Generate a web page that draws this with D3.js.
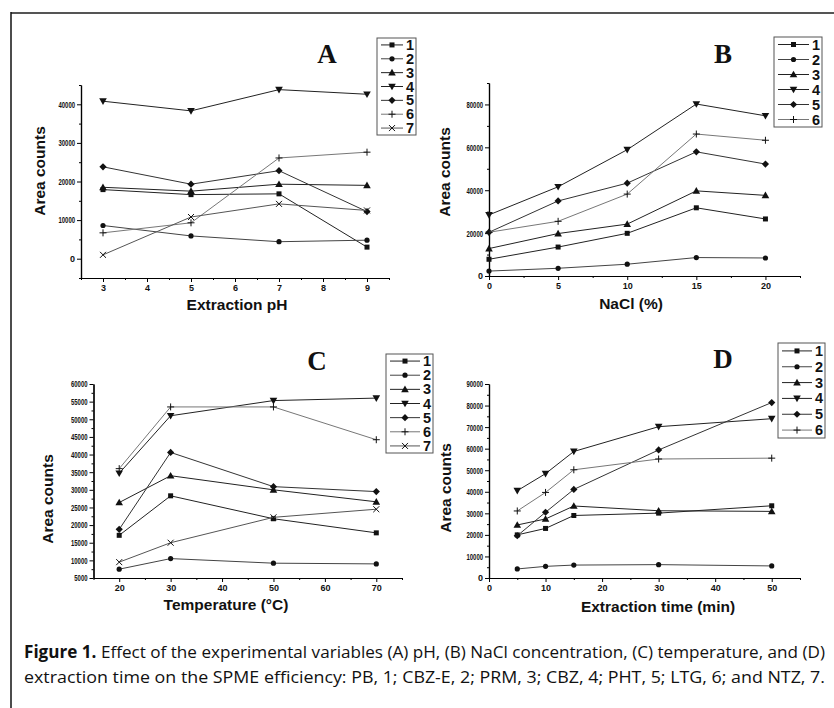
<!DOCTYPE html>
<html>
<head>
<meta charset="utf-8">
<script src="https://cdn.jsdelivr.net/npm/d3@7"></script>
<style>
  body { margin: 0; background: #fff; }
  svg { display: block; }
</style>
</head>
<body>
<script>
// ---- data ----
// A: extraction pH
var phX = [3, 5, 7, 9];
var phVals = [
  [17900, 16600, 16800, 3000],
  [8600, 5900, 4400, 4800],
  [18500, 17500, 19300, 19000],
  [40800, 38300, 43800, 42600],
  [23800, 19300, 22800, 12200],
  [6700, 9300, 26100, 27600],
  [1000, 10800, 14200, 12500]
];
var phXTicks = [3, 4, 5, 6, 7, 8, 9];
var phYTicks = [0, 10000, 20000, 30000, 40000];

// B: NaCl (%)
var naclX = [0, 5, 10, 15, 20];
var naclVals = [
  [7800, 13500, 19900, 31800, 26600],
  [2300, 3600, 5500, 8600, 8400],
  [12800, 19800, 24200, 39700, 37600],
  [28500, 41600, 58900, 80200, 74700],
  [20400, 35000, 43300, 57900, 52200],
  [20400, 25500, 38200, 66200, 63300]
];
var naclXTicks = [0, 5, 10, 15, 20];
var naclYTicks = [0, 20000, 40000, 60000, 80000];

// C: temperature
var tempX = [20, 30, 50, 70];
var tempVals = [
  [17100, 28300, 21800, 17800],
  [7500, 10500, 9200, 9000],
  [26400, 34000, 30000, 26600],
  [34700, 51000, 55300, 56000],
  [18800, 40600, 30900, 29500],
  [36000, 53500, 53500, 44200],
  [9500, 15000, 22200, 24500]
];
var tempXTicks = [20, 30, 40, 50, 60, 70];
var tempYTicks = [5000, 10000, 15000, 20000, 25000, 30000, 35000, 40000, 45000, 50000, 55000, 60000];

// D: extraction time
var timeX = [5, 10, 15, 30, 50];
var timeVals = [
  [20000, 23000, 29000, 30100, 33500],
  [4200, 5400, 6000, 6200, 5600],
  [24600, 27400, 33400, 31200, 30900],
  [40500, 48400, 58700, 70200, 73900],
  [19600, 30500, 41100, 59400, 81400],
  [31100, 39700, 50200, 55200, 55600]
];
var timeXTicks = [0, 10, 20, 30, 40, 50];
var timeYTicks = [0, 10000, 20000, 30000, 40000, 50000, 60000, 70000, 80000, 90000];

var seriesNames = ["1", "2", "3", "4", "5", "6", "7"];
var markerTypes = ["square", "circle", "tri", "down", "diamond", "plus", "cross"];
var lineColors = ["#222", "#444", "#222", "#222", "#333", "#777", "#555"];

var sans = "'Liberation Sans', Arial, sans-serif";

var svg = d3.select("body").append("svg")
    .attr("width", 834)
    .attr("height", 708);

svg.append("rect").attr("width", 834).attr("height", 708).attr("fill", "#fff");

// page frame of the scan
svg.append("line").attr("x1", 11).attr("x2", 834).attr("y1", 13).attr("y2", 13)
    .attr("stroke", "#555").attr("stroke-width", 2);
svg.append("line").attr("x1", 11).attr("x2", 11).attr("y1", 12).attr("y2", 708)
    .attr("stroke", "#111").attr("stroke-width", 1.5);

function drawMarker(g, type, cx, cy, color) {
  var s;
  switch (type) {
    case "square":
      g.append("rect").attr("x", cx - 2.5).attr("y", cy - 2.5).attr("width", 5).attr("height", 5)
        .attr("fill", color);
      break;
    case "circle":
      g.append("circle").attr("cx", cx).attr("cy", cy).attr("r", 2.6).attr("fill", color);
      break;
    case "tri":
      s = 3.8;
      g.append("path").attr("d", "M" + cx + "," + (cy - s) + "L" + (cx + s) + "," + (cy + s * 0.75) +
        "L" + (cx - s) + "," + (cy + s * 0.75) + "Z").attr("fill", color);
      break;
    case "down":
      s = 3.8;
      g.append("path").attr("d", "M" + cx + "," + (cy + s) + "L" + (cx + s) + "," + (cy - s * 0.75) +
        "L" + (cx - s) + "," + (cy - s * 0.75) + "Z").attr("fill", color);
      break;
    case "diamond":
      s = 3.6;
      g.append("path").attr("d", "M" + cx + "," + (cy - s) + "L" + (cx + s) + "," + cy +
        "L" + cx + "," + (cy + s) + "L" + (cx - s) + "," + cy + "Z").attr("fill", color);
      break;
    case "plus":
      s = 3.5;
      g.append("path").attr("d", "M" + (cx - s) + "," + cy + "H" + (cx + s) + "M" + cx + "," + (cy - s) + "V" + (cy + s))
        .attr("stroke", color).attr("stroke-width", 1).attr("fill", "none");
      break;
    case "cross":
      s = 3;
      g.append("path").attr("d", "M" + (cx - s) + "," + (cy - s) + "L" + (cx + s) + "," + (cy + s) +
        "M" + (cx - s) + "," + (cy + s) + "L" + (cx + s) + "," + (cy - s))
        .attr("stroke", color).attr("stroke-width", 1).attr("fill", "none");
      break;
  }
}

function styleTicks(sel, squeeze) {
  sel.selectAll("path.domain").attr("stroke", "#000").attr("stroke-width", 1.2);
  sel.selectAll(".tick line").attr("stroke", "#000").attr("stroke-width", 1);
  sel.selectAll("text")
    .attr("font-family", sans)
    .attr("font-size", 9)
    .attr("font-weight", "bold")
    .attr("fill", "#111")
    .each(function() {
      var t = d3.select(this).text();
      if (squeeze && t.length >= 4) {
        d3.select(this).attr("textLength", t.length * 3.3).attr("lengthAdjust", "spacingAndGlyphs");
      }
    });
}

function drawPanel(p) {
  var x = d3.scaleLinear().domain(p.xDom).range(p.xRange);
  var y = d3.scaleLinear().domain(p.yDom).range(p.yRange);
  var g = svg.append("g");

  var xMinor = d3.range(p.xDom[0], p.xDom[1] + 1e-9, p.xMinorStep)
      .filter(function(v) { return p.xTicks.indexOf(v) < 0; });
  var yMinor = d3.range(p.yDom[0], p.yDom[1] + 1e-9, p.yMinorStep)
      .filter(function(v) { return p.yTicks.indexOf(v) < 0; });

  g.append("g").attr("transform", "translate(0," + p.yRange[0] + ")")
    .call(d3.axisBottom(x).tickValues(xMinor).tickSize(2).tickSizeOuter(0).tickFormat(""))
    .call(styleTicks, false);
  g.append("g").attr("transform", "translate(0," + p.yRange[0] + ")")
    .call(d3.axisBottom(x).tickValues(p.xTicks).tickSize(4).tickSizeOuter(0).tickPadding(3)
      .tickFormat(d3.format("d")))
    .call(styleTicks, false);

  g.append("g").attr("transform", "translate(" + p.xRange[0] + ",0)")
    .call(d3.axisLeft(y).tickValues(yMinor).tickSize(2).tickSizeOuter(0).tickFormat(""))
    .call(styleTicks, true);
  g.append("g").attr("transform", "translate(" + p.xRange[0] + ",0)")
    .call(d3.axisLeft(y).tickValues(p.yTicks).tickSize(4).tickSizeOuter(0).tickPadding(2)
      .tickFormat(d3.format("d")))
    .call(styleTicks, true);

  var line = d3.line()
      .x(function(d) { return x(d[0]); })
      .y(function(d) { return y(d[1]); });

  p.vals.forEach(function(row, i) {
    var pts = p.xs.map(function(xv, j) { return [xv, row[j]]; });
    g.append("path").datum(pts)
      .attr("d", line)
      .attr("fill", "none")
      .attr("stroke", lineColors[i])
      .attr("stroke-width", 1);
    pts.forEach(function(pt) {
      drawMarker(g, markerTypes[i], x(pt[0]), y(pt[1]), "#111");
    });
  });

  // axis titles
  g.append("text")
    .attr("transform", "translate(" + p.yTitle[0] + "," + p.yTitle[1] + ") rotate(-90)")
    .attr("text-anchor", "middle")
    .attr("font-family", sans).attr("font-weight", "bold").attr("font-size", 15.5)
    .attr("fill", "#111")
    .text("Area counts");
  g.append("text")
    .attr("x", p.xTitle[0]).attr("y", p.xTitle[1])
    .attr("text-anchor", "middle")
    .attr("font-family", sans).attr("font-weight", "bold").attr("font-size", 15.5)
    .attr("fill", "#111")
    .text(p.xLabel);

  // panel letter
  g.append("text")
    .attr("x", p.letterPos[0]).attr("y", p.letterPos[1])
    .attr("text-anchor", "middle")
    .attr("font-family", "'Liberation Serif', 'Times New Roman', serif")
    .attr("font-weight", "bold").attr("font-size", 27)
    .attr("fill", "#111")
    .text(p.letter);

  // legend box
  var lb = p.legend;
  var n = p.vals.length;
  var rowH = (lb[3] - lb[1]) / n;
  var lg = g.append("g");
  lg.append("rect")
    .attr("x", lb[0]).attr("y", lb[1])
    .attr("width", lb[2] - lb[0]).attr("height", lb[3] - lb[1])
    .attr("fill", "#fff").attr("stroke", "#555").attr("stroke-width", 1);
  for (var i = 0; i < n; i++) {
    var cy = lb[1] + rowH * (i + 0.5);
    var x1 = lb[0] + 4, x2 = lb[2] - 13;
    lg.append("line").attr("x1", x1).attr("x2", x2).attr("y1", cy).attr("y2", cy)
      .attr("stroke", lineColors[i]).attr("stroke-width", 1);
    drawMarker(lg, markerTypes[i], (x1 + x2) / 2, cy, "#111");
    lg.append("text")
      .attr("x", lb[2] - 2).attr("y", cy + 5)
      .attr("text-anchor", "end")
      .attr("font-family", sans).attr("font-weight", "bold").attr("font-size", 14.5)
      .attr("fill", "#111")
      .text(seriesNames[i]);
  }
}

drawPanel({
  xs: phX, vals: phVals, xTicks: phXTicks, yTicks: phYTicks,
  xDom: [2.5, 9.5], xRange: [81, 389], xMinorStep: 0.5,
  yDom: [-5000, 45000], yRange: [278, 85], yMinorStep: 5000,
  xLabel: "Extraction pH", xTitle: [237, 310], yTitle: [45, 171],
  letter: "A", letterPos: [327, 63], legend: [377, 38, 416, 135]
});

drawPanel({
  xs: naclX, vals: naclVals, xTicks: naclXTicks, yTicks: naclYTicks,
  xDom: [0, 22.5], xRange: [489, 800], xMinorStep: 2.5,
  yDom: [0, 90000], yRange: [276, 83], yMinorStep: 10000,
  xLabel: "NaCl (%)", xTitle: [631, 309], yTitle: [450, 172],
  letter: "B", letterPos: [723, 63], legend: [774, 37, 822, 127]
});

drawPanel({
  xs: tempX, vals: tempVals, xTicks: tempXTicks, yTicks: tempYTicks,
  xDom: [15, 75], xRange: [93.5, 402], xMinorStep: 5,
  yDom: [5000, 60000], yRange: [578, 384], yMinorStep: 2500,
  xLabel: "Temperature (\u00B0C)", xTitle: [226, 610], yTitle: [53, 499],
  letter: "C", letterPos: [317, 370], legend: [386, 354, 433, 453]
});

drawPanel({
  xs: timeX, vals: timeVals, xTicks: timeXTicks, yTicks: timeYTicks,
  xDom: [0, 55], xRange: [489, 800], xMinorStep: 5,
  yDom: [0, 90000], yRange: [578, 384], yMinorStep: 5000,
  xLabel: "Extraction time (min)", xTitle: [658, 612], yTitle: [451, 488],
  letter: "D", letterPos: [723, 368], legend: [778, 343, 825, 438]
});

// caption
var capFont = "'Open Sans', 'Noto Sans', sans-serif";
var cap1 = svg.append("text")
    .attr("x", 24).attr("y", 658)
    .attr("font-family", capFont).attr("font-size", 17).attr("fill", "#111")
    .attr("textLength", 801).attr("lengthAdjust", "spacingAndGlyphs");
cap1.append("tspan").attr("font-weight", "bold").text("Figure 1.");
cap1.append("tspan").text(" Effect of the experimental variables (A) pH, (B) NaCl concentration, (C) temperature, and (D)");

svg.append("text")
    .attr("x", 24).attr("y", 682.5)
    .attr("font-family", capFont).attr("font-size", 17).attr("fill", "#111")
    .attr("textLength", 801).attr("lengthAdjust", "spacingAndGlyphs")
    .text("extraction time on the SPME efficiency: PB, 1; CBZ-E, 2; PRM, 3; CBZ, 4; PHT, 5; LTG, 6; and NTZ, 7.");
</script>
</body>
</html>
